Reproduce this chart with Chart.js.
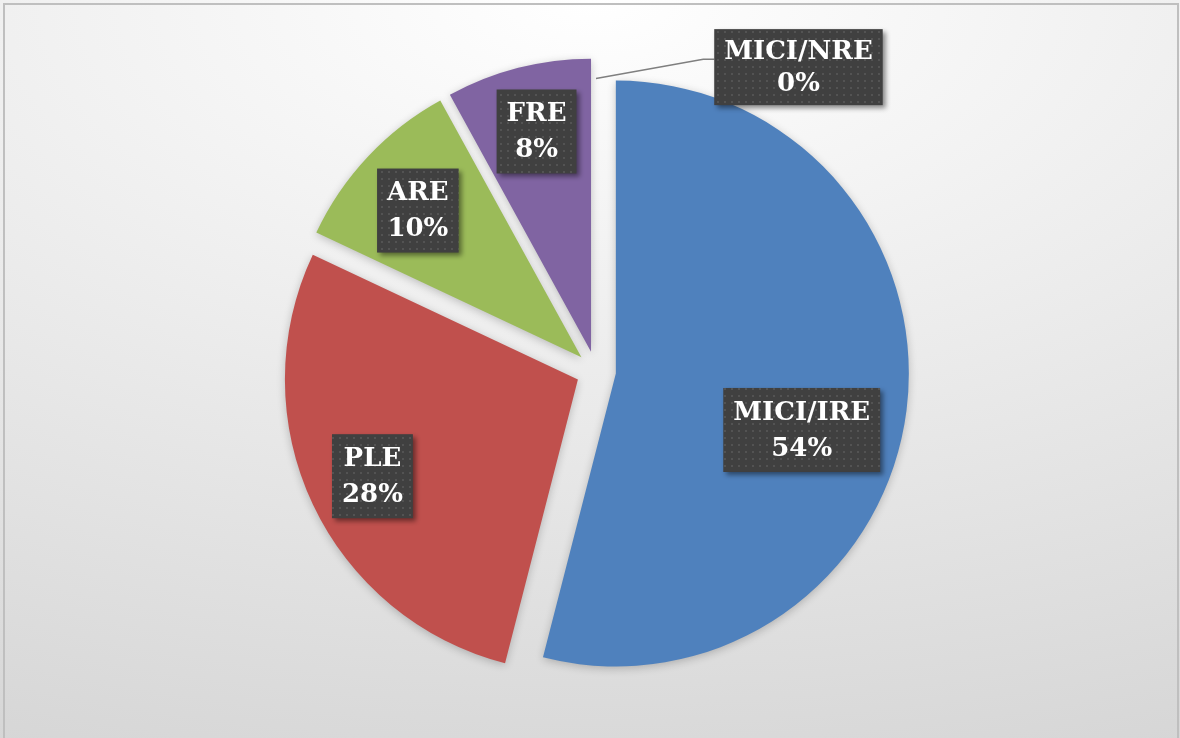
<!DOCTYPE html>
<html lang="en">
<head>
<meta charset="UTF-8" />
<title>Répartition des types</title>
<script src="https://cdn.jsdelivr.net/npm/chart.js"></script>
<style>
  html, body { margin: 0; padding: 0; background: #fff; }
  #wrap { width: 1180px; height: 738px; position: relative; }
</style>
</head>
<body>
<div id="wrap"><canvas id="pieChart"></canvas></div>
<script>
    // categories and shares (%)
    const categories = ["MICI/IRE", "PLE", "ARE", "FRE", "MICI/NRE"];
    const shares = [54, 28, 10, 8, 0];
    const sliceColors = ["#4f81bd", "#c0504d", "#9bbb59", "#8064a2", "#f79646"];

    const EXPLODE = 20;   // px each slice is pulled out
    const RADIUS = 293;
    // label anchor: fraction of radius along the slice middle, plus a turn in degrees
    const labelPlace = [
        { f: 0.663, turn: 9.7 },
        { f: 0.775, turn: 0 },
        { f: 0.75, turn: -1.3 },
        { f: 0.774, turn: 0.5 },
        { f: 1.19, turn: 35.5, leader: true }
    ];

    // dotted fill used by the label boxes
    function dotPattern(ctx) {
        const tile = document.createElement("canvas");
        tile.width = 7; tile.height = 7;
        const t = tile.getContext("2d");
        t.fillStyle = "#404040";
        t.fillRect(0, 0, 7, 7);
        t.fillStyle = "#535353";
        t.fillRect(3, 3, 2, 2);
        return ctx.createPattern(tile, "repeat");
    }

    const backdrop = {
        id: "backdrop",
        beforeDraw(chart) {
            const ctx = chart.ctx;
            const w = chart.width, h = chart.height;
            ctx.save();
            ctx.fillStyle = "#ffffff";
            ctx.fillRect(0, 0, w, h);
            ctx.save();
            ctx.translate(590, 0);
            ctx.scale(2, 1);
            const g = ctx.createRadialGradient(0, 0, 0, 0, 0, 800);
            g.addColorStop(0, "#ffffff");
            g.addColorStop(1, "#d6d6d6");
            ctx.fillStyle = g;
            ctx.fillRect(-295, 0, 590, h);
            ctx.restore();
            ctx.strokeStyle = "#bfbfbf";
            ctx.lineWidth = 2;
            ctx.strokeRect(4, 4, w - 6, h + 4);
            ctx.restore();
        }
    };

    // draws each slice pulled out along its middle angle
    const explode = {
        id: "explode",
        beforeDatasetDraw(chart, args) {
            const ctx = chart.ctx;
            args.meta.data.forEach(arc => {
                const mid = (arc.startAngle + arc.endAngle) / 2;
                ctx.save();
                ctx.translate(Math.cos(mid) * EXPLODE, Math.sin(mid) * EXPLODE);
                ctx.shadowColor = "rgba(0,0,0,0.22)";
                ctx.shadowBlur = 9;
                ctx.shadowOffsetY = 2;
                arc.draw(ctx);
                ctx.restore();
            });
            return false;
        }
    };

    const boxLabels = {
        id: "boxLabels",
        afterDatasetsDraw(chart) {
            const ctx = chart.ctx;
            const meta = chart.getDatasetMeta(0);
            const fill = dotPattern(ctx);
            ctx.save();
            ctx.font = 'bold 26px "DejaVu Serif"';
            ctx.textAlign = "center";
            ctx.textBaseline = "middle";
            meta.data.forEach((arc, i) => {
                const mid = (arc.startAngle + arc.endAngle) / 2;
                const vx = arc.x + Math.cos(mid) * EXPLODE;
                const vy = arc.y + Math.sin(mid) * EXPLODE;
                const p = labelPlace[i];
                const a = mid + p.turn * Math.PI / 180;
                const cx = vx + Math.cos(a) * p.f * arc.outerRadius;
                const cy = vy + Math.sin(a) * p.f * arc.outerRadius;
                const lines = [categories[i], shares[i] + "%"];
                const bw = Math.max(...lines.map(s => ctx.measureText(s).width)) + 20;
                const bh = p.leader ? 76 : 84;
                const left = cx - bw / 2, top = cy - bh / 2;

                if (p.leader) {
                    const sx = vx + Math.cos(mid) * arc.outerRadius * 0.93;
                    const sy = vy + Math.sin(mid) * arc.outerRadius * 0.93;
                    ctx.beginPath();
                    ctx.moveTo(sx, sy);
                    ctx.lineTo(left - 11, cy - 8);
                    ctx.lineTo(left, cy - 8);
                    ctx.strokeStyle = "#7f7f7f";
                    ctx.lineWidth = 1.5;
                    ctx.stroke();
                }

                ctx.save();
                ctx.shadowColor = "rgba(0,0,0,0.45)";
                ctx.shadowBlur = 5;
                ctx.shadowOffsetX = 3;
                ctx.shadowOffsetY = 3;
                ctx.fillStyle = fill;
                ctx.fillRect(left, top, bw, bh);
                ctx.restore();

                ctx.fillStyle = "#ffffff";
                const gap = p.leader ? 16 : 18;
                ctx.fillText(lines[0], cx, cy - gap + 1);
                ctx.fillText(lines[1], cx, cy + gap + 1);
            });
            ctx.restore();
        }
    };

    new Chart(document.getElementById("pieChart"), {
        type: "pie",
        data: {
            labels: categories,
            datasets: [{
                data: shares,
                backgroundColor: sliceColors,
                borderWidth: 0
            }]
        },
        options: {
            responsive: true,
            maintainAspectRatio: false,
            animation: false,
            radius: RADIUS,
            layout: { padding: { left: 12, right: 0, top: 4, bottom: 0 } },
            plugins: {
                legend: { display: false },
                tooltip: { enabled: false }
            }
        },
        plugins: [backdrop, explode, boxLabels]
    });
</script>
</body>
</html>
